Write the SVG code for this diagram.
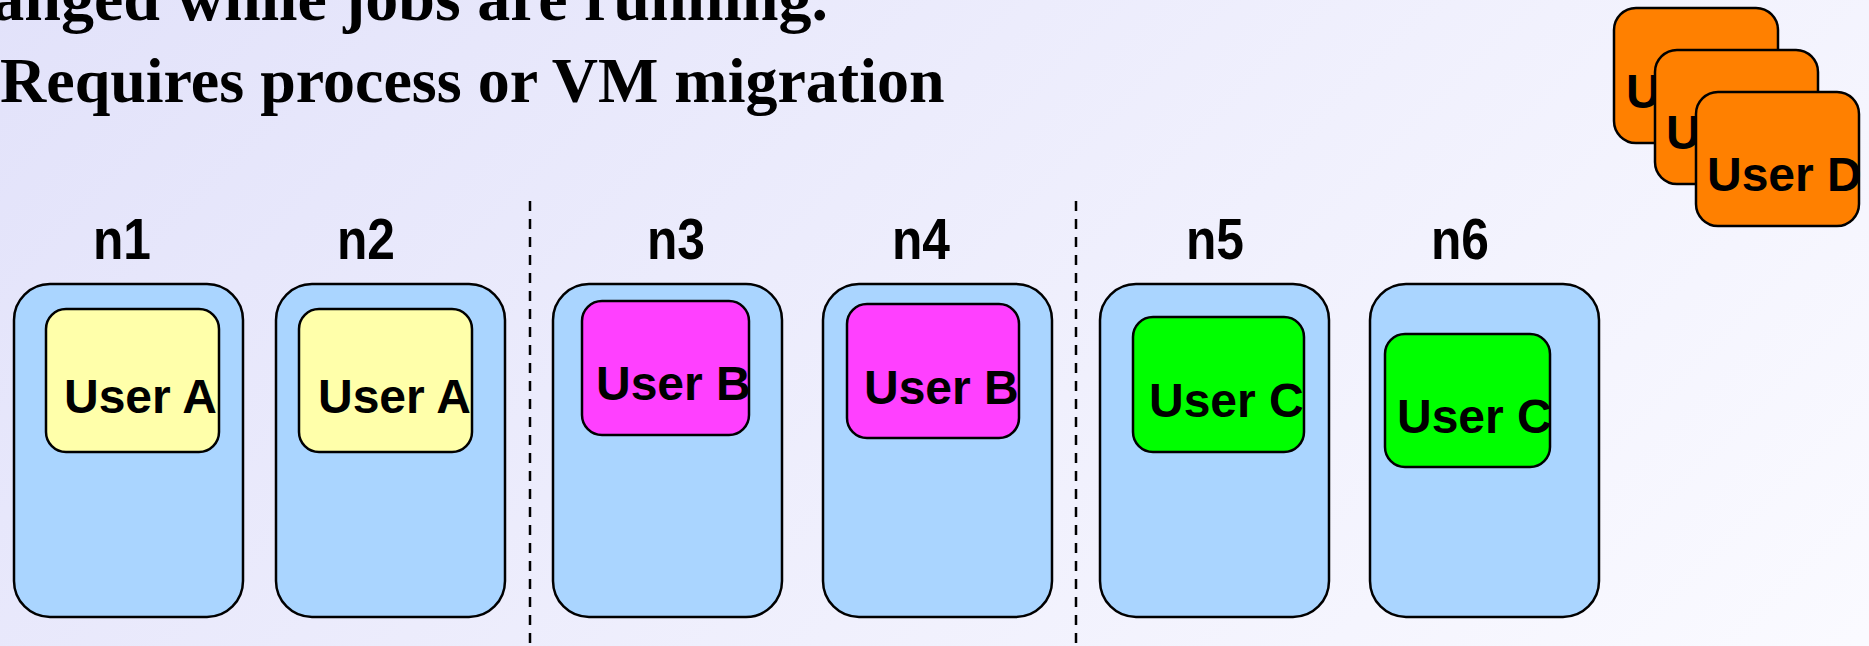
<svg xmlns="http://www.w3.org/2000/svg" width="1869" height="646" viewBox="0 0 1869 646">
<defs>
<linearGradient id="bg" gradientUnits="userSpaceOnUse" x1="0" y1="0" x2="1250" y2="1250">
<stop offset="0" stop-color="#e2e2fa"/>
<stop offset="1" stop-color="#fafaff"/>
</linearGradient>
<style>
.title{font-family:"Liberation Serif","Times New Roman",serif;font-weight:bold;fill:#000}
.node{fill:#aad5ff;stroke:#000;stroke-width:2.5}
.job{stroke:#000;stroke-width:2.5}
.a{fill:#ffffaa}.b{fill:#ff40ff}.c{fill:#00ff00}.d{fill:#ff8000}
.lbl{font-family:"Liberation Sans",Arial,sans-serif;font-weight:bold;font-size:57px;fill:#000}
.ut{font-family:"Liberation Sans",Arial,sans-serif;font-weight:bold;font-size:48px;fill:#000}
.sep{stroke:#000;stroke-width:2.5;stroke-dasharray:10 8;fill:none}
</style>
</defs>
<rect x="0" y="0" width="1869" height="646" fill="url(#bg)"/>
<text class="title" x="828" y="20" font-size="66" text-anchor="end">changed while jobs are running.</text>
<text class="title" x="0" y="102" font-size="64">Requires process or VM migration</text>

<g id="connectors">
<line class="sep" x1="530" y1="201" x2="530" y2="646"/>
<line class="sep" x1="1076" y1="201" x2="1076" y2="646"/>
</g>

<g id="n1">
<text class="lbl" x="93" y="259" textLength="58" lengthAdjust="spacingAndGlyphs">n1</text>
<rect class="node" x="14" y="284" width="229" height="333" rx="36"/>
<rect class="job a" x="46" y="309" width="173" height="143" rx="20"/>
<text class="ut" x="64" y="413">User A</text>
</g>
<g id="n2">
<text class="lbl" x="337" y="259" textLength="58" lengthAdjust="spacingAndGlyphs">n2</text>
<rect class="node" x="276" y="284" width="229" height="333" rx="36"/>
<rect class="job a" x="299" y="309" width="173" height="143" rx="20"/>
<text class="ut" x="318" y="413">User A</text>
</g>
<g id="n3">
<text class="lbl" x="647" y="259" textLength="58" lengthAdjust="spacingAndGlyphs">n3</text>
<rect class="node" x="553" y="284" width="229" height="333" rx="36"/>
<rect class="job b" x="582" y="301" width="167" height="134" rx="20"/>
<text class="ut" x="596" y="400">User B</text>
</g>
<g id="n4">
<text class="lbl" x="892" y="259" textLength="58" lengthAdjust="spacingAndGlyphs">n4</text>
<rect class="node" x="823" y="284" width="229" height="333" rx="36"/>
<rect class="job b" x="847" y="304" width="172" height="134" rx="20"/>
<text class="ut" x="864" y="404">User B</text>
</g>
<g id="n5">
<text class="lbl" x="1186" y="259" textLength="58" lengthAdjust="spacingAndGlyphs">n5</text>
<rect class="node" x="1100" y="284" width="229" height="333" rx="36"/>
<rect class="job c" x="1133" y="317" width="171" height="135" rx="20"/>
<text class="ut" x="1149" y="417">User C</text>
</g>
<g id="n6">
<text class="lbl" x="1431" y="259" textLength="58" lengthAdjust="spacingAndGlyphs">n6</text>
<rect class="node" x="1370" y="284" width="229" height="333" rx="36"/>
<rect class="job c" x="1385" y="334" width="165" height="133" rx="20"/>
<text class="ut" x="1397" y="433">User C</text>
</g>

<g id="userD">
<rect class="job d" x="1614" y="8" width="164" height="135" rx="22"/>
<text class="ut" x="1626" y="108">U</text>
<rect class="job d" x="1655" y="50" width="163" height="134" rx="22"/>
<text class="ut" x="1666" y="149">U</text>
<rect class="job d" x="1696" y="92" width="163" height="134" rx="22"/>
<text class="ut" x="1707" y="191">User D</text>
</g>
</svg>
